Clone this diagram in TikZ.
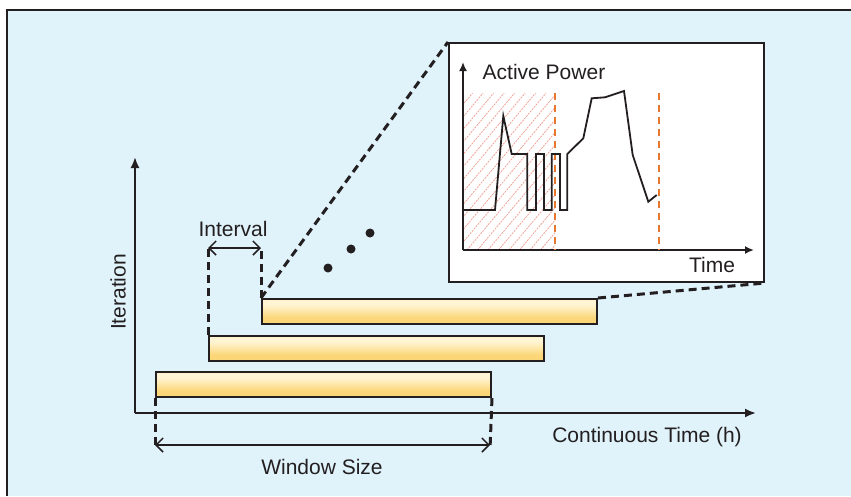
\documentclass[tikz,border=0pt]{standalone}
\usepackage{fontspec}
\setmainfont{Liberation Sans}
\usetikzlibrary{arrows.meta}
\definecolor{bgblue}{HTML}{E0F2FA}
\definecolor{ink}{HTML}{231F20}
\definecolor{cutorange}{HTML}{E8772E}
\definecolor{hatchred}{HTML}{EFA59A}
\definecolor{barA}{HTML}{FAD36C}
\definecolor{barB}{HTML}{FBD77A}
\definecolor{barC}{HTML}{FFF3CE}
\definecolor{barD}{HTML}{FFF5D6}
\definecolor{barE}{HTML}{FDEBB0}
% golden bar gradient: bright rim, pale band, deeper yellow towards the bottom
\pgfdeclareverticalshading{goldbar}{100bp}{
  color(0bp)=(barA); color(38bp)=(barB); color(62bp)=(barC);
  color(70bp)=(barD); color(82bp)=(barE); color(100bp)=(barE)}
\tikzset{
  lbl/.style={text=ink, font=\fontsize{21}{25}\selectfont, inner sep=0pt},
  axis/.style={draw=ink, line width=2pt, -{Latex[length=11pt,width=9pt]}},
  winbar/.style={draw=ink, line width=2pt, rectangle, inner sep=0pt, anchor=north west,
    minimum width=335pt, minimum height=25pt, shading=goldbar},
  guide/.style={draw=ink, line width=3pt, dash pattern=on 8pt off 5pt},
  span/.style={draw=ink, line width=1.5pt, {Straight Barb[length=7pt,width=14pt]}-{Straight Barb[length=7pt,width=14pt]}},
  cut/.style={draw=cutorange, line width=2.6pt, dash pattern=on 7pt off 5pt},
  dotmark/.style={fill=ink, circle, inner sep=0pt, minimum size=9pt}
}
\begin{document}
\begin{tikzpicture}[x=1pt,y=-1pt]
\useasboundingbox (0,0) rectangle (851,496);
% background panel
\fill[white] (0,0) rectangle (851,496);
\fill[bgblue] (7,10) rectangle (851,496);
\draw[ink, line width=2pt] (7,496) -- (7,10) -- (851,10);

% main axes
\coordinate (o) at (135,413);
\coordinate (ytop) at (135,157);
\coordinate (xend) at (756,413);
\draw[axis] (o) -- (ytop);
\draw[axis] (o) -- (xend);
\node[lbl, rotate=90] (ylab) at (118,292) {Iteration};
\node[lbl] (xlab) at (647,437) {Continuous Time (h)};

% sliding windows
\node[winbar] (w1) at (155,371) {};
\node[winbar] (w2) at (208,335) {};
\node[winbar] (w3) at (261,298) {};

% window size marker
\coordinate (ws1) at (155,449);
\coordinate (ws2) at (490,449);
\draw[guide] (w1.south west) -- (ws1);
\draw[guide] (w1.south east) -- (ws2);
\coordinate (wa1) at (155,445);
\coordinate (wa2) at (490,445);
\draw[span] (wa1) -- (wa2);
\node[lbl] (wslab) at (322,467) {Window Size};

% interval marker
\coordinate (iv1) at (208,248);
\coordinate (iv2) at (261,248);
\draw[guide] (w2.north west) -- (iv1);
\draw[guide] (w3.north west) -- (iv2);
\draw[span] (iv1) -- (iv2);
\node[lbl] (ivlab) at (233,229) {Interval};

% ellipsis dots
\node[dotmark] (d1) at (328,268) {};
\node[dotmark] (d2) at (351,249) {};
\node[dotmark] (d3) at (370,233) {};

% zoomed inset
\node[draw=ink, fill=white, line width=2pt, rectangle, inner sep=0pt, anchor=north west,
  minimum width=315pt, minimum height=239pt] (inset) at (448,42) {};
\draw[guide] (w3.north west) -- (inset.north west);
\draw[guide] (w3.north east) -- (inset.south east);

% hatched warm-up region
\begin{scope}
  \clip (463,93) rectangle (555,250);
  \foreach \k in {0,...,26} {
    \draw[hatchred, line width=0.8pt, dash pattern=on 2pt off 1pt] ({320+\k*10.5},250) -- ({320+\k*10.5+140},83);
  }
\end{scope}

% inset axes
\coordinate (io) at (463,250);
\coordinate (iytop) at (463,62);
\coordinate (ixend) at (754,250);
\draw[axis, line width=1.8pt, -{Latex[length=9pt,width=8pt]}] (io) -- (iytop);
\draw[axis, line width=1.8pt, -{Latex[length=9pt,width=8pt]}] (io) -- (ixend);
\node[lbl] (aplab) at (544,72) {Active Power};
\node[lbl] (tlab) at (712,265) {Time};

% cut lines
\coordinate (c1a) at (555,93);
\coordinate (c1b) at (555,250);
\coordinate (c2a) at (659,93);
\coordinate (c2b) at (659,250);
\draw[cut] (c1a) -- (c1b);
\draw[cut] (c2a) -- (c2b);

% power trace
\draw[ink, line width=1.8pt, line join=miter]
  (463,210) -- (495,210) -- (503.3,116) -- (511.7,154) -- (527.3,154) -- (527.3,210)
  -- (536,210) -- (536,154) -- (544,154) -- (544,210) -- (551.7,210) -- (551.7,154)
  -- (560,154) -- (560,210) -- (567.3,210) -- (567.3,154) -- (583.3,138.3)
  -- (591.7,98.3) -- (605,97.3) -- (624,91) -- (632.7,155) -- (648.3,201.7) -- (656.7,195);
\end{tikzpicture}
\end{document}
